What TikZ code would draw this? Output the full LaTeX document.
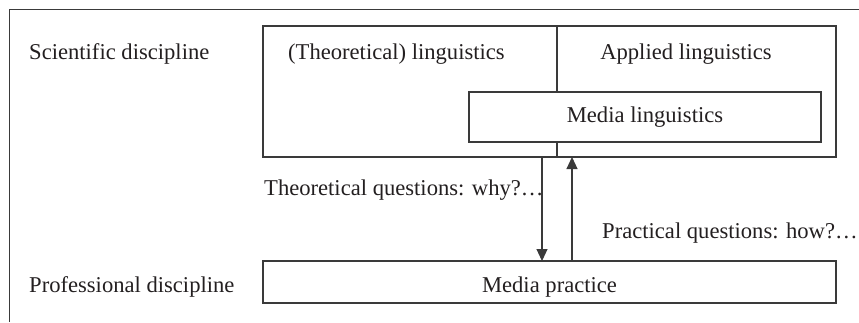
\documentclass[tikz,border=0pt]{standalone}
\usepackage{fontspec}
\setmainfont{Liberation Serif}
\usetikzlibrary{arrows.meta}
\definecolor{ink}{HTML}{231F20}
\definecolor{rule}{HTML}{3A3A3A}
\begin{document}
\begin{tikzpicture}[x=1pt,y=-1pt,
  box/.style={draw=rule,line width=1.1pt,inner sep=0pt,outer sep=0pt,anchor=north west},
  lbl/.style={text=ink,inner sep=0pt,font=\fontsize{22.6}{26}\selectfont},
  arr/.style={draw=rule,line width=1.1pt,-{Triangle[width=11pt,length=12pt]}},
  frame/.style={draw=rule,line width=0.9pt}]
\useasboundingbox (0,0) rectangle (859,322);
% frame
\draw[frame] (859,9) -- (9,9) -- (9,322);
% boxes
\node[box,minimum width=573pt,minimum height=131pt] (sci) at (263,26) {};
\node[box,minimum width=352pt,minimum height=50pt,fill=white] (ml) at (469,92) {};
\node[box,minimum width=573pt,minimum height=42pt] (prac) at (263,261) {};
% divider
\coordinate (div) at (557,0);
\draw[draw=rule,line width=1.1pt] (div |- sci.north) -- (div |- ml.north);
\draw[draw=rule,line width=1.1pt] (div |- ml.south) -- (div |- sci.south);
% arrows
\coordinate (dn) at (542,0);
\coordinate (up) at (572,0);
\draw[arr] (dn |- sci.south) -- (dn |- prac.north);
\draw[arr] (up |- prac.north) -- (up |- sci.south);
% labels
\node[lbl,anchor=base west] (tsci) at (29,59) {Scientific discipline};
\node[lbl,anchor=base west] (tprof) at (29,292) {Professional discipline};
\node[lbl,anchor=base west] (ttheo) at (288,59) {(Theoretical) linguistics};
\node[lbl,anchor=base] (tapp) at (686,59) {Applied linguistics};
\node[lbl,anchor=base] (tml) at (ml.center |- 0,122) {Media linguistics};
\node[lbl,anchor=base] (tmp) at (prac.center |- 0,292) {Media practice};
\node[lbl,anchor=base west] (tq1) at (264,195) {Theoretical questions: why?…};
\node[lbl,anchor=base west] (tq2) at (602,238) {Practical questions: how?…};
\end{tikzpicture}
\end{document}
